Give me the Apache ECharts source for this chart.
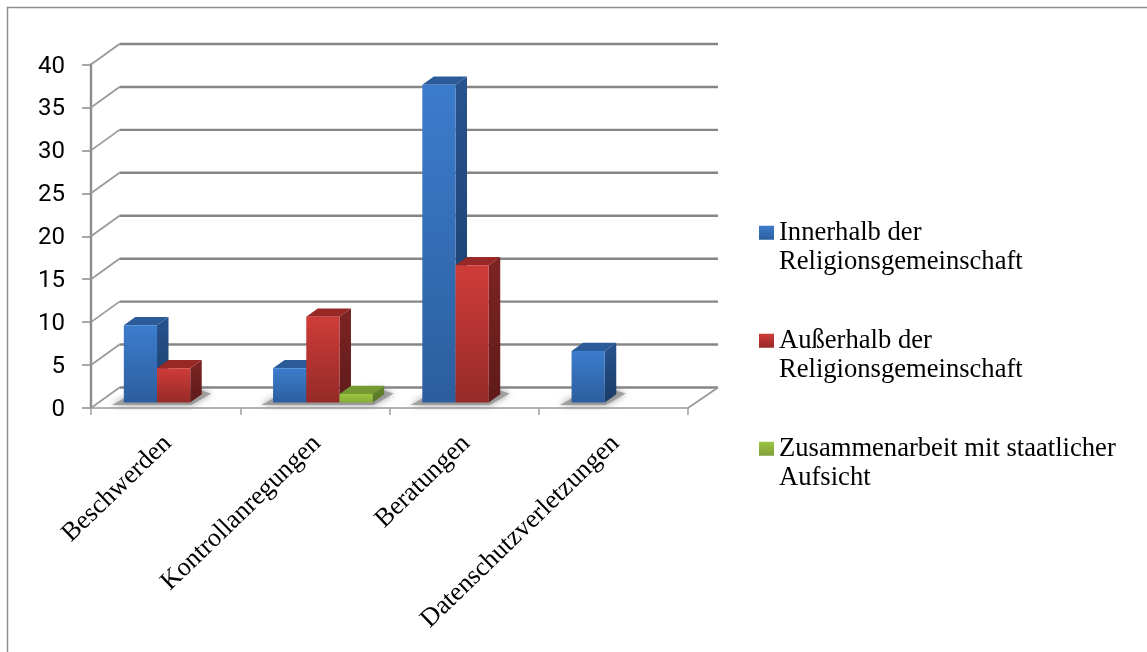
<!DOCTYPE html>
<html>
<head>
<meta charset="utf-8">
<style>html,body{margin:0;padding:0;background:#fff}#c{width:1147px;height:652px}</style>
<script src="https://cdn.jsdelivr.net/npm/echarts@6/dist/echarts.min.js"></script>
</head>
<body>
<div id="c"></div>
<script>
const categories = ['Beschwerden', 'Kontrollanregungen', 'Beratungen', 'Datenschutzverletzungen'];
const seriesNames = ['Innerhalb der\nReligionsgemeinschaft', 'Außerhalb der\nReligionsgemeinschaft', 'Zusammenarbeit mit staatlicher\nAufsicht'];
const innerhalb = [9, 4, 37, 6];
const ausserhalb = [4, 10, 16, 0];
const zusammenarbeit = [0, 1, 0, 0];
const yTicks = [0, 5, 10, 15, 20, 25, 30, 35, 40];

// 3D projection parameters
const WALL_DX_L = 28.5, WALL_DX_R = 30, WALL_DY = 20.5;  // front plane -> back wall
const BAR_DX = 8, BAR_DY = 5.4;           // front plane -> bar base
const SIDE_DX = 11.5, SIDE_DY = 8.3;      // bar depth
const BAR_BAND = 0.2225;                  // bar width as share of a category

function lin(a, b) {
  return { type: 'linear', x: 0, y: 0, x2: 0, y2: 1, colorStops: [{ offset: 0, color: a }, { offset: 1, color: b }] };
}
const palette = [
  { front: lin('#3c7ccd', '#2c5e9e'), side: lin('#27548e', '#1a3b66'), top: '#2b5c99', legend: lin('#3c7ccd', '#2c5e9e') },
  { front: lin('#cf3c38', '#952a28'), side: lin('#7d2423', '#5f1a1a'), top: '#982826', legend: lin('#cf3c38', '#952a28') },
  { front: lin('#9cc541', '#86ad39'), side: lin('#668a2c', '#567425'), top: '#759a32', legend: lin('#9cc541', '#7f9f3a') }
];

function renderBar(s) {
  return function (params, api) {
    const i = api.value(0), v = api.value(1);
    if (!v) return null;
    const band = api.size([1, 0])[0];
    const w = band * BAR_BAND;
    const c = api.coord([i, v]);
    const base = api.coord([i, 0])[1] - BAR_DY;
    const top = c[1] - BAR_DY;
    const x0 = c[0] + BAR_DX + (s - 1.5) * w;
    const x1 = x0 + w;
    const col = palette[s];
    return {
      type: 'group',
      children: [
        { type: 'polygon', shape: { points: [[x0, top], [x1, top], [x1 + SIDE_DX, top - SIDE_DY], [x0 + SIDE_DX, top - SIDE_DY]] }, style: { fill: col.top } },
        { type: 'polygon', shape: { points: [[x1, top], [x1 + SIDE_DX, top - SIDE_DY], [x1 + SIDE_DX, base - SIDE_DY], [x1, base]] }, style: { fill: col.side } },
        { type: 'rect', shape: { x: x0, y: top, width: w, height: base - top }, style: { fill: col.front } }
      ]
    };
  };
}

function renderShadow(params, api) {
  const i = api.value(0), n = api.value(1);
  const band = api.size([1, 0])[0], w = band * BAR_BAND;
  const c = api.coord([i, 0]);
  const base = c[1] - BAR_DY;
  const x0 = c[0] + BAR_DX - 1.5 * w, x1 = x0 + n * w;
  return {
    type: 'polygon',
    shape: { points: [[x0 - 12, base + 2.5], [x1 + 1, base + 2.5], [x1 + 21, base - 9], [x1 + 8, base - 13], [x0, base - 4]] },
    style: { fill: 'rgba(145,145,145,0.8)', shadowBlur: 7, shadowColor: 'rgba(130,130,130,1)' }
  };
}

function renderWall(params, api) {
  const v = api.value(0);
  const a = api.coord([0, v]), band = api.size([1, 0])[0];
  const left = a[0] - band / 2, right = left + band * categories.length, y = a[1];
  const kids = [
    { type: 'line', shape: { x1: left, y1: y, x2: left + WALL_DX_L, y2: y - WALL_DY }, style: { stroke: '#9a9a9a', lineWidth: 1.8 } },
    { type: 'line', shape: { x1: left + WALL_DX_L, y1: y - WALL_DY, x2: right + WALL_DX_R, y2: y - WALL_DY }, style: { stroke: '#868686', lineWidth: 2.4 } }
  ];
  if (v === 0) {
    kids.push({ type: 'line', shape: { x1: right, y1: y, x2: right + WALL_DX_R, y2: y - WALL_DY }, style: { stroke: '#9a9a9a', lineWidth: 1.8 } });
  }
  return { type: 'group', children: kids };
}

const shadowCounts = [[0, 2], [1, 3], [2, 2], [3, 1]];
const barSeries = [innerhalb, ausserhalb, zusammenarbeit].map(function (vals, s) {
  return {
    name: seriesNames[s], type: 'custom', coordinateSystem: 'cartesian2d', clip: false, z: 5 + s,
    encode: { x: 0, y: 1 },
    itemStyle: { color: palette[s].legend },
    renderItem: renderBar(s),
    data: vals.map(function (v, i) { return [i, v]; })
  };
});

const chart = echarts.init(document.getElementById('c'));
chart.setOption({
  animation: false,
  backgroundColor: '#fff',
  grid: { left: 91, right: 459, top: 64.5, bottom: 244 },
  xAxis: {
    type: 'category', data: categories,
    axisLine: { lineStyle: { color: '#b4b4b4', width: 2 } },
    axisTick: { show: true, length: 7, lineStyle: { color: '#a0a0a0', width: 1.5 } },
    axisLabel: {
      rotate: 44, interval: 0, margin: 29.5,
      formatter: '{a|{value}}',
      rich: { a: { color: '#000', fontFamily: 'Liberation Serif', fontSize: 26.2, padding: [6, 0, 0, 0] } }
    }
  },
  yAxis: {
    type: 'value', min: 0, max: 40, interval: 5,
    splitLine: { show: false },
    axisLine: { show: true, lineStyle: { color: '#8c8c8c', width: 2.4 } },
    axisTick: { show: true, length: 9, lineStyle: { color: '#8c8c8c', width: 1.5 } },
    axisLabel: {
      margin: 26,
      formatter: '{a|{value}}',
      rich: { a: { color: '#000', fontFamily: 'Roboto', fontSize: 24, padding: [4, 0, 0, 0] } }
    }
  },
  legend: {
    orient: 'vertical', left: 754, top: 183.5, itemWidth: 15, itemHeight: 14, itemGap: 19.5,
    icon: 'rect', align: 'left', selectedMode: false,
    data: seriesNames,
    formatter: function (name) { return '\n' + name; },
    textStyle: { color: '#000', fontFamily: 'Liberation Serif', fontSize: 26.6, lineHeight: 29.5 }
  },
  graphic: [{
    type: 'polyline', silent: true,
    shape: { points: [[7.5, 660], [7.5, 7.5], [1160, 7.5]] },
    style: { fill: 'none', stroke: '#8e8e8e', lineWidth: 1.5 }
  }],
  series: [
    { type: 'custom', name: 'wall', coordinateSystem: 'cartesian2d', clip: false, z: 1, encode: { y: 0 }, renderItem: renderWall, data: yTicks.map(function (v) { return [v]; }) },
    { type: 'custom', name: 'shadow', coordinateSystem: 'cartesian2d', clip: false, z: 2, encode: { x: 0 }, renderItem: renderShadow, data: shadowCounts }
  ].concat(barSeries)
});
</script>
</body>
</html>
